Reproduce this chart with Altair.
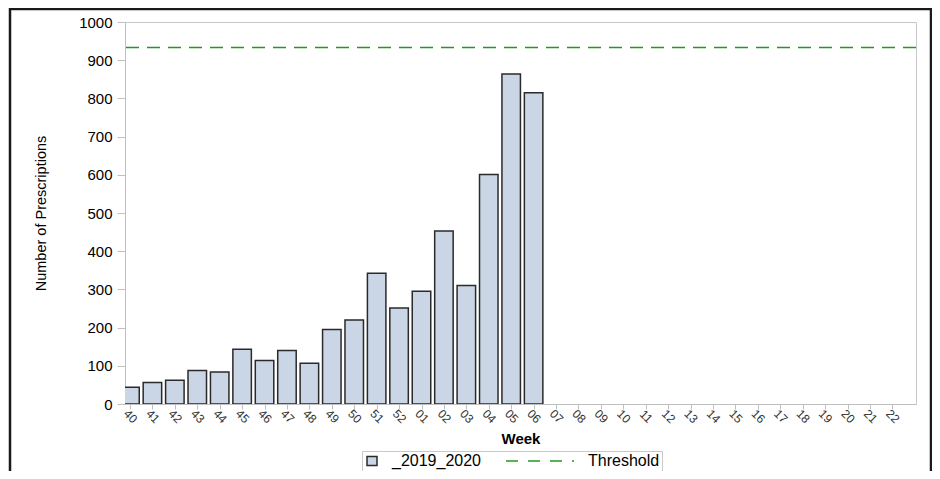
import altair as alt
import pandas as pd

weeks = ["40", "41", "42", "43", "44", "45", "46", "47", "48", "49", "50", "51", "52",
         "01", "02", "03", "04", "05", "06", "07", "08", "09", "10", "11", "12", "13",
         "14", "15", "16", "17", "18", "19", "20", "21", "22"]
counts = [44, 56, 62, 88, 84, 143, 114, 140, 107, 195, 220, 342, 251,
          295, 453, 310, 601, 864, 815] + [None] * 16
threshold = [933]
series_names = ["_2019_2020", "Threshold"]
y_ticks = [0, 100, 200, 300, 400, 500, 600, 700, 800, 900, 1000]

df = pd.DataFrame({"idx": list(range(len(weeks))), "week": weeks, "count": counts})
thr_df = pd.DataFrame({"value": threshold})
leg_df = pd.DataFrame({"series": series_names})

W, H = 791, 382
FONT = "Liberation Sans"
GREEN = "#1f9a1f"
BAR_FILL = "#cad5e5"

label_expr = "[" + ",".join("'%s'" % w for w in weeks) + "][datum.value]"
x_scale = alt.Scale(domain=[0, 34.83], nice=False, zero=False)
y_scale = alt.Scale(domain=[0, 1000], nice=False)

y_axis = alt.Axis(values=y_ticks, tickCount=11, format="d", labelOverlap=False,
                  labelFlush=False, tickSize=8, labelPadding=5, labelFontSize=15,
                  title="Number of Prescriptions",
                  titleFontSize=14.5, titleFontWeight="normal", titlePadding=30)

frame = alt.Chart(pd.DataFrame({"k": [0]})).mark_rect(
    fill="white", fillOpacity=0, stroke="#1a1a1a", strokeWidth=2.5, clip=False
).encode(
    x=alt.value(-115), x2=alt.value(806), y=alt.value(-13), y2=alt.value(480)
)

bars = alt.Chart(df).mark_bar(
    fill=BAR_FILL, stroke="#2a2a2a", strokeWidth=1.5, width=18.5, clip=True
).encode(
    x=alt.X("idx:Q", scale=x_scale,
            axis=alt.Axis(values=list(range(len(weeks))), labelExpr=label_expr,
                          labelAngle=45, labelAlign="center", labelBaseline="middle",
                          labelPadding=7, labelFontSize=12, labelOverlap=False,
                          labelFlush=False, tickSize=5, labelColor="#333333",
                          title="Week", titleFontSize=15, titleFontWeight="bold",
                          titlePadding=7)),
    y=alt.Y("count:Q", scale=y_scale, axis=y_axis),
)

rule = alt.Chart(thr_df).mark_rule(
    color=GREEN, strokeDash=[13, 8], strokeWidth=1.5
).encode(y=alt.Y("value:Q", scale=y_scale, axis=y_axis))

# legend symbol paths (unit = sqrt(symbolSize)/2 px = 5 px)
square_path = "M-1,-0.9H1V0.9H-1Z"
dash_path = "M-12.4,0H-10M-8,0H-5.6M-3.6,0H-1.2M0.8,0H1.2"

legend = alt.Legend(title=None, orient="none", legendX=237, legendY=429,
                    direction="horizontal", strokeColor="#c8c8c8", padding=2,
                    labelFont=FONT, labelFontSize=16, labelColor="black",
                    labelOffset=12, columnPadding=22, symbolSize=100,
                    symbolStrokeWidth=1.5, symbolOpacity=1)

legend_layer = alt.Chart(leg_df).mark_point(opacity=0, filled=True).encode(
    fill=alt.Fill("series:N", scale=alt.Scale(domain=series_names, range=[BAR_FILL, "transparent"]), legend=legend),
    stroke=alt.Stroke("series:N", scale=alt.Scale(domain=series_names, range=["#2a2a2a", GREEN]), legend=legend),
    shape=alt.Shape("series:N", scale=alt.Scale(domain=series_names, range=[square_path, dash_path]), legend=legend),
)

chart = alt.layer(frame, bars, rule, legend_layer).properties(
    width=W, height=H,
    background="white",
    padding={"left": 117, "top": 14, "right": 16, "bottom": 67},
    autosize=alt.AutoSizeParams(type="none"),
).configure_view(
    stroke="#c8c8c8", strokeWidth=1, fill="white"
).configure_axis(
    domainColor="#c0c0c0", tickColor="#c0c0c0", labelColor="black", titleColor="black",
    labelFont=FONT, titleFont=FONT, grid=False
)

chart.save("out.html", embed_options={"renderer": "svg", "actions": False})
